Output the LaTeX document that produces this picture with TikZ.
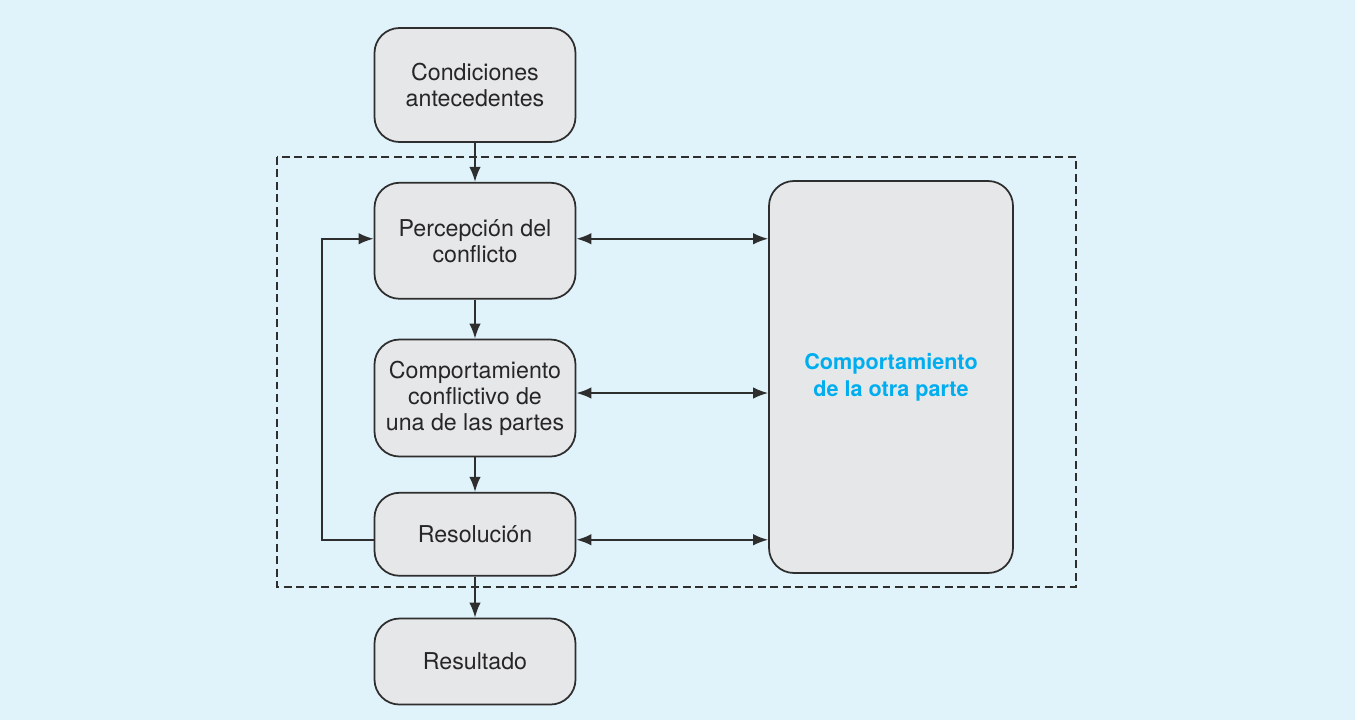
\documentclass[tikz,border=0pt]{standalone}
\usepackage{fontspec}
\setmainfont{TeX Gyre Heros}
\usepackage{xcolor}
\usetikzlibrary{positioning,arrows.meta,calc}

\definecolor{bgblue}{HTML}{E0F3FA}
\definecolor{boxgray}{HTML}{E6E7E9}
\definecolor{linegray}{HTML}{2E2E2E}
\definecolor{textblue}{HTML}{00AEEF}

\begin{document}
\begin{tikzpicture}[
  node distance=7.8mm and 7mm,
  every node/.style={font=\fontsize{13.2}{14.8}\selectfont,text=black!85},
  block/.style={draw=linegray,line width=1pt,rounded corners=5mm,fill=boxgray,
                minimum width=40.2mm,align=center,inner sep=3pt},
  side/.style={block,minimum width=48.8mm,minimum height=78.4mm,
               text=textblue,font=\fontsize{12.3}{15.5}\selectfont\bfseries},
  arr/.style={-{Latex[length=3mm,width=2.3mm]},line width=1pt,draw=linegray},
  dbl/.style={{Latex[length=3mm,width=2.3mm]}-{Latex[length=3mm,width=2.3mm]},
              line width=1pt,draw=linegray}
]
  \fill[bgblue] (0,0) rectangle (27.1,-14.4);
  \useasboundingbox (0,0) rectangle (27.1,-14.4);

  \node[block,minimum height=22.8mm] (cond) at (9.5,-1.7) {Condiciones\\antecedentes};
  \node[block,minimum height=23.2mm,below=of cond] (perc) {Percepción del\\conflicto};
  \node[block,minimum height=23.4mm,below=of perc] (comp) {Comportamiento\\conflictivo de\\una de las partes};
  \node[block,minimum height=16.6mm,below=6.9mm of comp] (res) {Resolución};
  \node[block,minimum height=17.2mm,below=8.2mm of res] (resu) {Resultado};
  \node[side] (otra) at (17.82,-7.54) {Comportamiento\\de la otra parte};

  % Boundary
  \draw[linegray,dash pattern=on 4.5pt off 2.6pt,line width=0.8pt]
    (5.54,-3.14) rectangle (21.52,-11.74);

  \draw[arr] (cond)--(perc);
  \draw[arr] (perc)--(comp);
  \draw[arr] (comp)--(res);
  \draw[arr] (res)--(resu);
  \coordinate (loop) at ([xshift=-10.4mm,yshift=-1.1mm]res.west);
  \draw[arr] ([yshift=-1.1mm]res.west) -- (loop) |- ([yshift=0.4mm]perc.west);

  \draw[dbl] ([yshift=0.4mm]perc.east) -- ([yshift=0.4mm]perc.east -| otra.west);
  \draw[dbl] ([yshift=1mm]comp.east) -- ([yshift=1mm]comp.east -| otra.west);
  \draw[dbl] ([yshift=-1.1mm]res.east) -- ([yshift=-1.1mm]res.east -| otra.west);
\end{tikzpicture}
\end{document}
